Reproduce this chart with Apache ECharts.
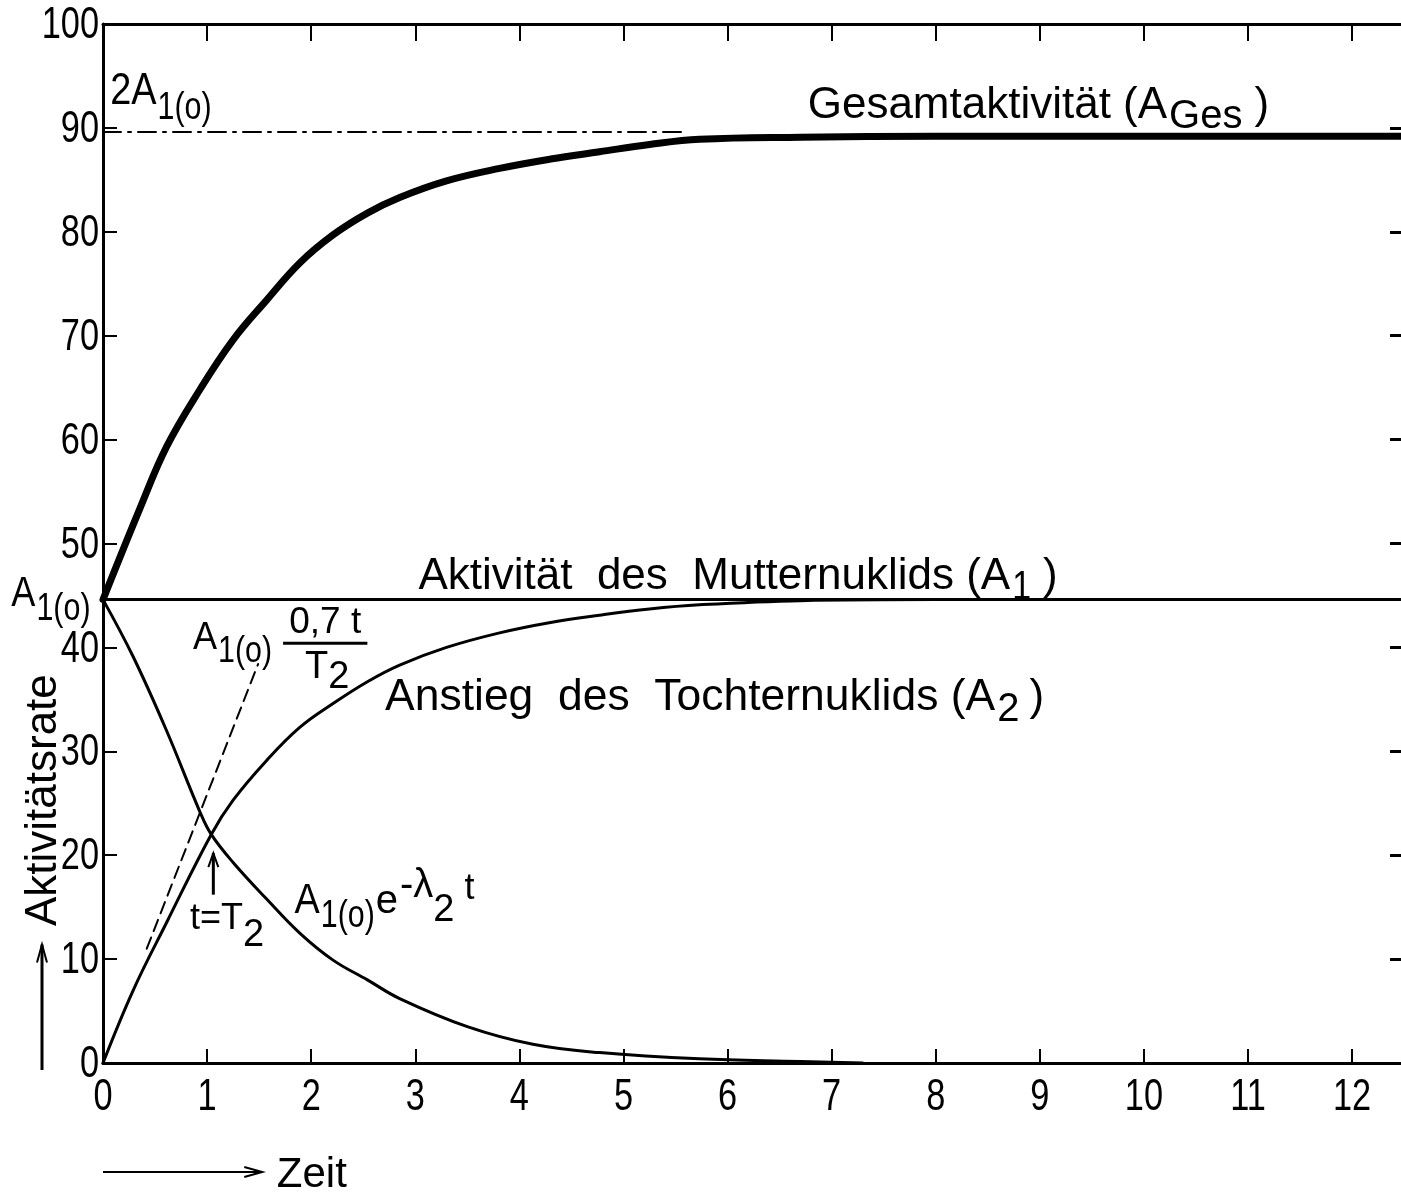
<!DOCTYPE html>
<html>
<head>
<meta charset="utf-8">
<script src="https://cdn.jsdelivr.net/npm/echarts@6/dist/echarts.min.js"></script>
<style>
  html, body { margin: 0; padding: 0; background: #fff; }
  #chart { width: 1401px; height: 1196px; }
</style>
</head>
<body>
<div id="chart"></div>
<script>
// ---- axis ticks ----
const xTicks = [0, 1, 2, 3, 4, 5, 6, 7, 8, 9, 10, 11, 12];
const yTicks = [0, 10, 20, 30, 40, 50, 60, 70, 80, 90, 100];
const X_MAX = 12.47;
const Y_MAX = 100;

// ---- curves (time, activity) ----
// parent nuclide activity A1 (constant)
const motherT = [0, 12.47];
const motherV = [44.6, 44.6];

// total activity A_Ges
const totalT = [0, 0.36, 0.61, 0.93, 1.25, 1.57, 1.89, 2.21, 2.54, 2.85, 3.3, 3.81, 4.3, 4.77, 5.25, 5.73, 6.7, 8.0, 10.0, 12.47];
const totalV = [44.6, 53.5, 59.3, 64.8, 69.6, 73.4, 77.0, 79.7, 81.8, 83.3, 84.9, 86.1, 87.0, 87.7, 88.4, 88.9, 89.1, 89.2, 89.2, 89.2];

// growth of the daughter nuclide A2
const riseT = [0, 0.29, 0.61, 1.04, 1.25, 1.57, 1.89, 2.21, 2.54, 2.85, 3.3, 3.81, 4.3, 4.77, 5.25, 5.73, 6.7, 8.0, 12.47];
const riseV = [0, 7.0, 13.5, 22.0, 25.3, 29.1, 32.3, 34.6, 36.7, 38.3, 40.0, 41.4, 42.4, 43.1, 43.7, 44.1, 44.5, 44.6, 44.6];

// A1(o) e^(-lambda2 t)
const decayT = [0, 0.29, 0.61, 0.93, 1.04, 1.25, 1.57, 1.89, 2.21, 2.54, 2.85, 3.5, 4.13, 4.77, 5.73, 6.7, 7.3];
const decayV = [44.6, 39.1, 32.0, 24.2, 22.0, 19.3, 15.8, 12.5, 9.9, 8.0, 6.2, 3.5, 1.8, 1.0, 0.4, 0.15, 0];

// initial tangent A1(o) * 0.7 t / T2
const tangentT = [0.42, 1.49];
const tangentV = [11.0, 38.4];

// limit 2 A1(o)
const limitT = [0, 5.6];
const limitV = [89.6, 89.6];

const FONT_TXT = '"Liberation Sans", Arial, sans-serif';
const INK = '#000';
const DIGIT_SCALE = 0.78;   // narrow lettering for the scale numbers

const pairs = (t, v) => t.map((x, i) => [x, v[i]]);

const chart = echarts.init(document.getElementById('chart'), null, { renderer: 'canvas' });

function lineSeries(name, t, v, width, type, smooth) {
  return {
    name, type: 'line', data: pairs(t, v), showSymbol: false, symbol: 'none',
    smooth: smooth ? 0.4 : false, silent: true,
    lineStyle: { color: INK, width, type: type || 'solid', cap: 'round', join: 'round' },
    z: 3
  };
}

chart.setOption({
  animation: false,
  backgroundColor: '#fff',
  grid: { left: 103, right: 0, top: 24, bottom: 133, containLabel: false, outerBoundsMode: 'none' },
  xAxis: [
    {
      type: 'value', min: 0, max: X_MAX, position: 'bottom',
      axisLine: { show: true, onZero: false, lineStyle: { color: INK, width: 3 } },
      axisTick: { show: true, inside: true, length: 14, customValues: xTicks, lineStyle: { color: INK, width: 2 } },
      axisLabel: { show: false },
      splitLine: { show: false }
    },
    {
      type: 'value', min: 0, max: X_MAX, position: 'top',
      axisLine: { show: true, onZero: false, lineStyle: { color: INK, width: 3 } },
      axisTick: { show: true, inside: true, length: 17, customValues: xTicks, lineStyle: { color: INK, width: 2 } },
      axisLabel: { show: false },
      splitLine: { show: false }
    }
  ],
  yAxis: [
    {
      type: 'value', min: 0, max: Y_MAX, interval: 10, position: 'left',
      axisLine: { show: true, onZero: false, lineStyle: { color: INK, width: 3 } },
      axisTick: { show: true, inside: true, length: 14, lineStyle: { color: INK, width: 2 } },
      axisLabel: { show: false },
      splitLine: { show: false }
    },
    {
      type: 'value', min: 0, max: Y_MAX, interval: 10, position: 'right',
      axisLine: { show: true, onZero: false, lineStyle: { color: 'rgba(0,0,0,0)', width: 1 } },
      axisTick: { show: true, inside: true, length: 11, lineStyle: { color: INK, width: 3 } },
      axisLabel: { show: false },
      splitLine: { show: false }
    }
  ],
  series: [
    lineSeries('2A1(o)', limitT, limitV, 2, [18, 7, 3, 7], false),
    lineSeries('A1', motherT, motherV, 3, 'solid', false),
    lineSeries('A2', riseT, riseV, 3, 'solid', true),
    lineSeries('A1(o) e^-l2t', decayT, decayV, 3, 'solid', true),
    lineSeries('Tangente', tangentT, tangentV, 2, [12, 7], false),
    lineSeries('AGes', totalT, totalV, 7, 'solid', true)
  ]
});

// ---- text helpers ----
const measureCtx = document.createElement('canvas').getContext('2d');
function textWidth(str, font) { measureCtx.font = font; return measureCtx.measureText(str).width; }
const px = (x, y) => chart.convertToPixel({ xAxisIndex: 0, yAxisIndex: 0 }, [x, y]);

// parts: [text, fontSize, baselineShift, gapBefore, scaleX]
function textRun(parts, x, baseY, align) {
  const fonts = parts.map(p => p[1] + 'px ' + FONT_TXT);
  const widths = parts.map((p, i) => textWidth(p[0], fonts[i]) * (p[4] || 1));
  const total = widths.reduce((s, w, i) => s + w + (parts[i][3] || 0), 0);
  let cx = align === 'right' ? x - total : align === 'center' ? x - total / 2 : x;
  const els = [];
  parts.forEach((p, i) => {
    cx += p[3] || 0;
    els.push({
      type: 'text', x: cx, y: baseY + (p[2] || 0) - 0.31 * p[1], scaleX: p[4] || 1, silent: true,
      style: { text: p[0], font: fonts[i], fill: INK, align: 'left', verticalAlign: 'middle',
               textAlign: 'left', textVerticalAlign: 'middle' }
    });
    cx += widths[i];
  });
  return els;
}

function scaleLabel(text, x, y, align) {
  return {
    type: 'text', x, y, scaleX: DIGIT_SCALE, silent: true,
    style: { text, font: '44px ' + FONT_TXT, fill: INK, align, verticalAlign: 'middle',
             textAlign: align, textVerticalAlign: 'middle' }
  };
}

function arrowHead(tx, ty, dirX, dirY, len, half) {
  const bx = tx - dirX * len, by = ty - dirY * len;
  const nx = -dirY, ny = dirX;
  return {
    type: 'polyline', silent: true,
    shape: { points: [[bx + nx * half, by + ny * half], [tx, ty], [bx - nx * half, by - ny * half]] },
    style: { stroke: INK, lineWidth: 2, fill: null }
  };
}

function buildGraphics() {
  const g = [];
  const origin = px(0, 0);
  const axisX = origin[0], axisY = origin[1];

  // scale numbers of both axes, placed through the axis scales
  xTicks.forEach(v => { const p = px(v, 0); g.push(scaleLabel(String(v), p[0], axisY + 35, 'center')); });
  yTicks.forEach(v => { const p = px(0, v); g.push(scaleLabel(String(v), axisX - 4, p[1] + 2, 'right')); });

  // 2A1(o) above the limit line
  let p = px(0.07, 92.2);
  g.push(...textRun([['2A', 44, 0, 0, 0.86], ['1(o)', 39, 15, 1, 0.78]], p[0], p[1]));

  // Gesamtaktivität (AGes)
  p = px(6.77, 90.8);
  g.push(...textRun([['Gesamtaktivität (A', 44], ['Ges', 40, 10, 2], [')', 44, 0, 12]], p[0], p[1]));

  // Aktivität des Mutternuklids (A1)
  p = px(3.03, 45.5);
  g.push(...textRun([['Aktivität  des  Mutternuklids (A', 44], ['1', 40, 10, 2, 0.85], [')', 44, 0, 12]], p[0], p[1]));

  // Anstieg des Tochternuklids (A2)
  p = px(2.71, 33.8);
  g.push(...textRun([['Anstieg  des  Tochternuklids (A', 44, 0, 0, 1.01], ['2', 40, 11, 2], [')', 44, 0, 10]], p[0], p[1]));

  // A1(o) at the left of the value axis
  p = px(-0.12, 43.8);
  g.push(...textRun([['A', 42, 0, 0, 0.86], ['1(o)', 39, 13, 1, 0.78]], p[0], p[1], 'right'));

  // A1(o) * 0.7 t / T2
  p = px(0.865, 39.75);
  g.push(...textRun([['A', 38, 0, 0, 0.95], ['1(o)', 37, 13, 1, 0.82]], p[0], p[1]));
  const fracL = px(1.73, 40.4), fracR = px(2.54, 40.4);
  g.push({ type: 'line', silent: true, shape: { x1: fracL[0], y1: fracL[1], x2: fracR[0], y2: fracR[1] },
           style: { stroke: INK, lineWidth: 3 } });
  p = px(2.135, 41.3);
  g.push(...textRun([['0,7 t', 37]], p[0], p[1], 'center'));
  p = px(1.94, 36.9);
  g.push(...textRun([['T', 38], ['2', 38, 10, 0]], p[0], p[1]));

  // A1(o) e^(-lambda2 t)
  p = px(1.84, 14.3);
  g.push(...textRun([['A', 42, 0, 0, 0.9], ['1(o)', 38, 14, 1, 0.8], ['e', 40, 0, 1], ['-λ', 40, -16, 2], ['2', 38, 8, 0], ['t', 36, -14, 10]], p[0], p[1]));

  // t = T2 with upward arrow
  p = px(0.836, 12.8);
  g.push(...textRun([['t=T', 36], ['2', 38, 17, 0]], p[0], p[1]));
  const aTip = px(1.06, 20.2), aTail = px(1.06, 16.2);
  g.push({ type: 'line', silent: true, shape: { x1: aTail[0], y1: aTail[1], x2: aTip[0], y2: aTip[1] },
           style: { stroke: INK, lineWidth: 3 } });
  g.push(arrowHead(aTip[0], aTip[1], 0, -1, 14, 5));

  // time axis caption: arrow and "Zeit"
  const arrowEnd = px(1.53, 0);
  const capY = axisY + 109;
  g.push({ type: 'line', silent: true, shape: { x1: axisX, y1: capY, x2: arrowEnd[0], y2: capY },
           style: { stroke: INK, lineWidth: 2 } });
  g.push(arrowHead(arrowEnd[0], capY, 1, 0, 18, 5));
  const zeitX = px(1.67, 0)[0];
  g.push(...textRun([['Zeit', 42]], zeitX, axisY + 125));

  // value axis caption: arrow and rotated "Aktivitätsrate"
  const capX = axisX - 61;
  const yTip = px(0, 11.4)[1];
  g.push({ type: 'line', silent: true, shape: { x1: capX, y1: axisY + 7, x2: capX, y2: yTip },
           style: { stroke: INK, lineWidth: 3 } });
  g.push(arrowHead(capX, yTip, 0, -1, 18, 5));
  const midY = px(0, 25.3)[1];
  g.push({
    type: 'text', x: capX + 2, y: midY, rotation: Math.PI / 2, silent: true,
    style: { text: 'Aktivitätsrate', font: '44px ' + FONT_TXT, fill: INK,
             align: 'center', verticalAlign: 'middle', textAlign: 'center', textVerticalAlign: 'middle' }
  });

  return g;
}

chart.setOption({ graphic: { elements: buildGraphics() } });
</script>
</body>
</html>
